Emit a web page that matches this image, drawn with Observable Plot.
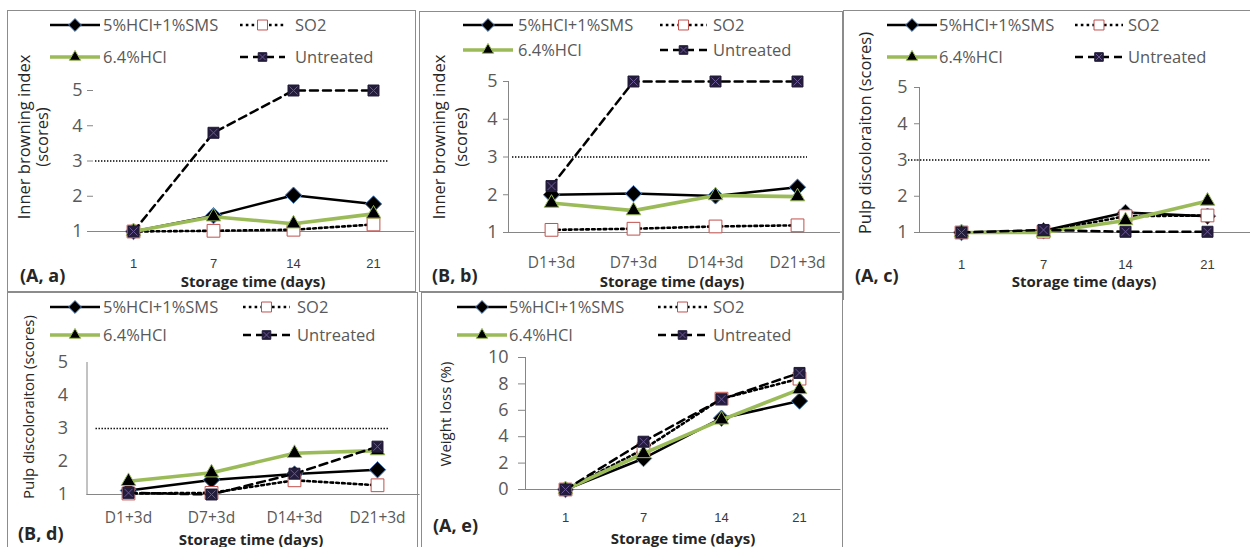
<!DOCTYPE html>
<html><head><meta charset="utf-8">
<script src="https://cdn.jsdelivr.net/npm/d3@7"></script>
<script src="https://cdn.jsdelivr.net/npm/@observablehq/plot@0.6"></script>
<style>
body{margin:0;background:#fff;}
#page{position:relative;width:1250px;height:547px;overflow:hidden;font-family:"Open Sans",sans-serif;background:#fff;}
.box{position:absolute;border-color:#8c8c8c;border-style:solid;box-sizing:border-box;}
.t{position:absolute;white-space:nowrap;line-height:1;}
.plotwrap{position:absolute;}
.plotwrap svg{overflow:visible;}
.leg{position:absolute;}
</style></head><body><div id="page"></div>
<script>
// ---------------- data ----------------
const treatments = ["5%HCl+1%SMS", "SO2", "6.4%HCl", "Untreated"];
const daysA = ["1", "7", "14", "21"];
const daysB = ["D1+3d", "D7+3d", "D14+3d", "D21+3d"];
const scoreTicks = [1, 2, 3, 4, 5];
const weightTicks = [0, 2, 4, 6, 8, 10];
const scoreThreshold = 3;

// (A, a) inner browning index
const aSMS = [1.0, 1.45, 2.03, 1.78];
const aSO2 = [1.0, 1.02, 1.05, 1.2];
const aHCl = [1.0, 1.42, 1.22, 1.5];
const aUnt = [1.0, 3.8, 5.0, 5.0];
// (B, b) inner browning index
const bSMS = [2.0, 2.03, 1.97, 2.2];
const bSO2 = [1.07, 1.1, 1.16, 1.19];
const bHCl = [1.78, 1.58, 1.98, 1.95];
const bUnt = [2.23, 5.0, 5.0, 5.0];
// (A, c) pulp discoloration
const cSMS = [1.0, 1.05, 1.55, 1.45];
const cSO2 = [1.0, 1.02, 1.45, 1.47];
const cHCl = [1.0, 1.0, 1.33, 1.87];
const cUnt = [1.0, 1.07, 1.02, 1.02];
// (B, d) pulp discoloration
const dSMS = [1.12, 1.44, 1.62, 1.75];
const dSO2 = [1.03, 1.05, 1.43, 1.28];
const dHCl = [1.4, 1.66, 2.25, 2.33];
const dUnt = [1.05, 1.0, 1.63, 2.45];
// (A, e) weight loss
const eSMS = [0, 2.35, 5.4, 6.7];
const eSO2 = [0, 3.05, 6.88, 8.4];
const eHCl = [0, 2.73, 5.28, 7.58];
const eUnt = [0, 3.62, 6.84, 8.83];

// ---------------- styles ----------------
const seriesStyle = {
  "5%HCl+1%SMS": {stroke: "#000", width: 2.5, dash: null, symbol: "diamond2", d3sym: d3.symbolDiamond2, fill: "#000", mstroke: "#4f81bd", r: 7.4},
  "SO2": {stroke: "#000", width: 2.6, dash: "2.6 3.2", symbol: "square", d3sym: d3.symbolSquare, fill: "#fff", mstroke: "#c0504d", r: 7.2},
  "6.4%HCl": {stroke: "#9bbb59", width: 3.6, dash: null, symbol: "triangle", d3sym: d3.symbolTriangle, fill: "#000", mstroke: "#9bbb59", r: 5.4},
  "Untreated": {stroke: "#000", width: 2.5, dash: "8 5", symbol: "square", d3sym: d3.symbolSquare, fill: "#231c3a", mstroke: "#231c3a", r: 6.2, cross: "#6a5796"}
};

const numFont = {fontFamily: "Liberation Sans, Arial, sans-serif", fontSize: 13, fill: "#3a3a3a"};
const txtFont = {fontFamily: "Open Sans, sans-serif", fontSize: 15.5, fill: "#595959"};
const yFont = {fontFamily: "Open Sans, sans-serif", fontSize: 18, fill: "#595959"};

const panels = [
  {tag: "(A, a)", days: daysA, values: [aSMS, aSO2, aHCl, aUnt], yDomain: [1, 5], yTicks: scoreTicks, threshold: scoreThreshold,
   ytitle: ["Inner browning index", "(scores)"], ytitleX: [24, 42], ytitleY: 137, ytitleSize: 16.5,
   svg: [7, 10, 416, 292], frame: [93, 90, 413, 231], refInset: [2, 25], yLine: false,
   yTick: [6, 5], xTick: [0, 27], xFont: numFont,
   box: {l: 7, t: 10, r: 416, b: 292, sides: "1.5px"},
   leg: {c1: [50, 103], c2: [240, 295], rows: [25, 57], w2: 45},
   xtitle: [253, 281], tagPos: [20, 275]},
  {tag: "(B, b)", days: daysB, values: [bSMS, bSO2, bHCl, bUnt], yDomain: [1, 5], yTicks: scoreTicks, threshold: scoreThreshold,
   ytitle: ["Inner browning index", "(scores)"], ytitleX: [439, 461], ytitleY: 137, ytitleSize: 16.5,
   svg: [419, 11, 843, 292], frame: [508, 81, 839, 232], refInset: [4, 32], yLine: true,
   yTick: [5, 6], xTick: [0, 24], xFont: txtFont,
   box: {l: 419, t: 11, r: 843, b: 292, sides: "1.5px"},
   leg: {c1: [463, 518], c2: [660, 713], rows: [25, 50], w2: 47},
   xtitle: [672, 281], tagPos: [432, 275]},
  {tag: "(A, c)", days: daysA, values: [cSMS, cSO2, cHCl, cUnt], yDomain: [1, 5], yTicks: scoreTicks, threshold: scoreThreshold,
   ytitle: ["Pulp  discoloraiton (scores)"], ytitleX: [865], ytitleY: 133, ytitleSize: 16.5,
   svg: [843, 10, 1250, 292], frame: [919, 87, 1249, 232], refInset: [-11, 39], yLine: true,
   yTick: [5, 7], xTick: [0, 27], xFont: numFont,
   box: {l: 843, t: 10, r: 1252, b: 300, sides: "1.5px 0 0 1.5px"},
   leg: {c1: [887, 939], c2: [1075, 1128], rows: [25, 57], w2: 48},
   xtitle: [1084, 281], tagPos: [855, 275]},
  {tag: "(B, d)", days: daysB, values: [dSMS, dSO2, dHCl, dUnt], yDomain: [1, 5], yTicks: scoreTicks, threshold: scoreThreshold,
   ytitle: ["Pulp discoloraiton (scores)"], ytitleX: [28], ytitleY: 407, ytitleSize: 15,
   svg: [7, 292, 422, 547], frame: [86.5, 362, 418.5, 494], refInset: [9, 30], yLine: true,
   yTick: [0, 19], xTick: [0, 17], xFont: txtFont,
   box: {l: 7, t: 292, r: 418, b: 560, sides: "1.5px 1.5px 0 1.5px"},
   leg: {c1: [50, 103], c2: [243, 297], rows: [307, 335], w2: 47},
   xtitle: [251, 539], tagPos: [18, 533]},
  {tag: "(A, e)", days: daysA, values: [eSMS, eSO2, eHCl, eUnt], yDomain: [0, 10], yTicks: weightTicks, threshold: null,
   ytitle: ["Weight loss (%)"], ytitleX: [445], ytitleY: 414, ytitleSize: 15,
   svg: [422, 292, 843, 547], frame: [525, 357, 839.5, 489], refInset: [0, 0], yLine: true,
   yTick: [7, 10], xTick: [0, 23], xFont: numFont,
   box: {l: 421, t: 292, r: 843, b: 560, sides: "1.5px 1.5px 0 1.5px"},
   leg: {c1: [457, 509], c2: [658, 713], rows: [307, 335], w2: 49},
   xtitle: [683, 538], tagPos: [433, 525]}
];

const page = document.getElementById("page");
const NS = "http://www.w3.org/2000/svg";

function addText(str, x, y, css, anchor, rotate) {
  const el = document.createElement("div");
  el.className = "t";
  el.textContent = str;
  Object.assign(el.style, css);
  el.style.left = x + "px";
  el.style.top = y + "px";
  const tx = anchor === "start" ? "0" : "-50%";
  el.style.transform = `translate(${tx},-50%)` + (rotate ? " rotate(-90deg)" : "");
  page.appendChild(el);
}

function legendSymbol(name, w) {
  const st = seriesStyle[name];
  const svg = document.createElementNS(NS, "svg");
  svg.setAttribute("width", w);
  svg.setAttribute("height", 18);
  svg.style.overflow = "visible";
  const line = document.createElementNS(NS, "line");
  line.setAttribute("x1", 0); line.setAttribute("x2", w);
  line.setAttribute("y1", 9); line.setAttribute("y2", 9);
  line.setAttribute("stroke", st.stroke);
  line.setAttribute("stroke-width", st.width);
  if (st.dash) line.setAttribute("stroke-dasharray", st.dash);
  svg.appendChild(line);
  const rr = st.r * 0.78;
  const p = document.createElementNS(NS, "path");
  p.setAttribute("d", d3.symbol(st.d3sym, Math.PI * rr * rr)());
  p.setAttribute("transform", `translate(${w / 2},9)`);
  p.setAttribute("fill", st.fill);
  p.setAttribute("stroke", st.mstroke);
  p.setAttribute("stroke-width", 1);
  svg.appendChild(p);
  if (st.cross) {
    const c = document.createElementNS(NS, "path");
    c.setAttribute("d", d3.symbol(d3.symbolTimes, Math.PI * (rr * 0.6) ** 2)());
    c.setAttribute("transform", `translate(${w / 2},9)`);
    c.setAttribute("fill", "none");
    c.setAttribute("stroke", st.cross);
    c.setAttribute("stroke-width", 1);
    svg.appendChild(c);
  }
  return svg;
}

function makePanel(p) {
  const b = document.createElement("div");
  b.className = "box";
  Object.assign(b.style, {left: p.box.l + "px", top: p.box.t + "px", width: (p.box.r - p.box.l) + "px", height: (p.box.b - p.box.t) + "px", borderWidth: p.box.sides});
  page.appendChild(b);

  const data = [];
  treatments.forEach((t, k) => p.values[k].forEach((v, i) => data.push({t, day: p.days[i], v})));

  const [sl, st, sr, sb] = p.svg;
  const [fl, ft, fr, fb] = p.frame;
  const marks = [];
  if (p.threshold != null) {
    marks.push(Plot.ruleY([p.threshold], {stroke: "#000", strokeWidth: 1.4, strokeDasharray: "1.4 1.6", insetLeft: p.refInset[0], insetRight: p.refInset[1]}));
  }
  marks.push(Plot.frame({anchor: "bottom", stroke: "#868686", strokeWidth: 1}));
  if (p.yLine) marks.push(Plot.frame({anchor: "left", stroke: "#868686", strokeWidth: 1}));
  marks.push(Plot.axisY({ticks: p.yTicks, tickFormat: d => String(d), tickSize: p.yTick[0], tickPadding: p.yTick[1], stroke: "#868686", ...yFont, label: null}));
  marks.push(Plot.axisX({tickSize: p.xTick[0], tickPadding: p.xTick[1], ...p.xFont, label: null}));
  for (const t of treatments) {
    const s = seriesStyle[t];
    const sub = data.filter(d => d.t === t);
    marks.push(Plot.line(sub, {x: "day", y: "v", stroke: s.stroke, strokeWidth: s.width, strokeDasharray: s.dash || undefined, strokeLinejoin: "round"}));
    marks.push(Plot.dot(sub, {x: "day", y: "v", symbol: s.symbol, r: s.r, fill: s.fill, stroke: s.mstroke, strokeWidth: 1}));
    if (s.cross) marks.push(Plot.dot(sub, {x: "day", y: "v", symbol: "times", r: s.r * 0.6, fill: "none", stroke: s.cross, strokeWidth: 1}));
  }
  const chart = Plot.plot({
    width: sr - sl, height: sb - st,
    marginLeft: fl - sl, marginRight: sr - fr, marginTop: ft - st, marginBottom: sb - fb,
    x: {type: "point", domain: p.days, padding: 0.5},
    y: {domain: p.yDomain},
    style: {background: "transparent", overflow: "visible"},
    marks
  });
  const wrap = document.createElement("div");
  wrap.className = "plotwrap";
  wrap.style.left = sl + "px";
  wrap.style.top = st + "px";
  wrap.appendChild(chart);
  page.appendChild(wrap);

  const order = [[0, "c1", 0], [1, "c2", 0], [2, "c1", 1], [3, "c2", 1]];
  for (const [k, col, row] of order) {
    const name = treatments[k];
    const [x0, xt] = p.leg[col];
    const w = col === "c1" ? 50 : p.leg.w2;
    const y = p.leg.rows[row];
    const sym = legendSymbol(name, w);
    sym.setAttribute("class", "leg");
    sym.style.position = "absolute";
    sym.style.left = x0 + "px";
    sym.style.top = (y - 9) + "px";
    page.appendChild(sym);
    addText(name, xt, y, {fontSize: "16.5px", color: "#595959"}, "start");
  }
  p.ytitle.forEach((line, i) => addText(line, p.ytitleX[i], p.ytitleY, {fontSize: p.ytitleSize + "px", color: "#262626"}, "middle", true));
  addText("Storage time (days)", p.xtitle[0], p.xtitle[1], {fontSize: "15px", fontWeight: "bold", color: "#262626"}, "middle");
  addText(p.tag, p.tagPos[0], p.tagPos[1], {fontSize: "18px", fontWeight: "bold", color: "#262626"}, "start");
}

panels.forEach(makePanel);
</script></body></html>
